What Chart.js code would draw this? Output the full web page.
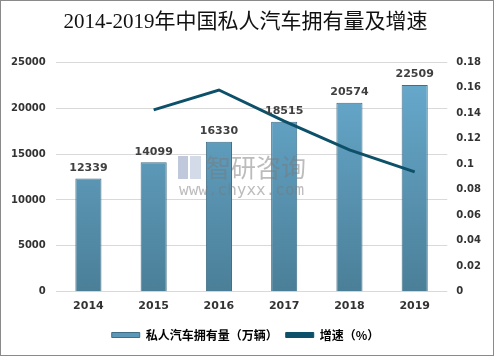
<!DOCTYPE html>
<html><head><meta charset="utf-8">
<script src="https://cdn.jsdelivr.net/npm/chart.js@4.4.0/dist/chart.umd.min.js"></script>
<style>
html,body{margin:0;padding:0;background:#fff;}
#wrap{position:relative;width:492px;height:354px;border:1px solid #8a8a8a;}
</style></head>
<body>
<div id="wrap"><canvas id="c" width="492" height="354"></canvas></div>
<script>
const categories = ['2014','2015','2016','2017','2018','2019'];
const ownership = [12339, 14099, 16330, 18515, 20574, 22509];
const growth = [null, 0.1426, 0.1582, 0.1338, 0.1112, 0.0940];
const leftTicks = [0, 5000, 10000, 15000, 20000, 25000];
const rightTicks = [0, 0.02, 0.04, 0.06, 0.08, 0.1, 0.12, 0.14, 0.16, 0.18];
const titleText = '2014-2019年中国私人汽车拥有量及增速';
const barLabel = '私人汽车拥有量（万辆）';
const lineLabel = '增速（%）';

const labelPlugin = {
  id: 'labels',
  afterDatasetsDraw(chart) {
    const ctx = chart.ctx;
    const meta = chart.getDatasetMeta(1);
    ctx.save();
    ctx.font = 'bold 11px "DejaVu Sans", sans-serif';
    ctx.fillStyle = '#404040';
    ctx.textAlign = 'center';
    ctx.textBaseline = 'bottom';
    meta.data.forEach((el, i) => {
      ctx.fillText(String(ownership[i]), el.x, el.y - 5);
    });
    ctx.restore();
  }
};

const watermarkPlugin = {
  id: 'watermark',
  afterDraw(chart) {
    const ctx = chart.ctx;
    ctx.save();
    ctx.globalAlpha = 0.5;
    ctx.fillStyle = '#7f93b8';
    ctx.fillRect(177, 155, 10, 23);
    ctx.fillStyle = '#a9b7d2';
    ctx.fillRect(189, 155, 11, 23);
    ctx.fillStyle = '#7a7a7a';
    ctx.font = '25px "Noto Sans CJK SC", sans-serif';
    ctx.textBaseline = 'middle';
    ctx.textAlign = 'left';
    ctx.fillText('智研咨询', 205, 166);
    ctx.font = '16px "DejaVu Sans Mono", monospace';
    ctx.fillText('www.chyxx.com', 178, 190);
    ctx.restore();
  }
};

const tickFont = { family: '"DejaVu Sans", sans-serif', size: 10, weight: 'bold' };

const ctx = document.getElementById('c').getContext('2d');
new Chart(ctx, {
  data: {
    labels: categories,
    datasets: [
      {
        type: 'line',
        label: lineLabel,
        data: growth,
        yAxisID: 'y1',
        borderColor: '#0d5069',
        backgroundColor: '#0d5069',
        borderWidth: 3,
        pointRadius: 0,
        tension: 0,
        order: 0
      },
      {
        type: 'bar',
        label: barLabel,
        data: ownership,
        yAxisID: 'y',
        backgroundColor(c) {
          const a = c.chart.chartArea;
          if (!a) return '#5e9dbd';
          const g = c.chart.ctx.createLinearGradient(0, a.top, 0, a.bottom);
          g.addColorStop(0, '#69acd0');
          g.addColorStop(1, '#4b7f98');
          return g;
        },
        borderColor: '#3f6e85',
        borderWidth: 1,
        categoryPercentage: 1,
        barPercentage: 0.4,
        order: 1
      }
    ]
  },
  plugins: [labelPlugin, watermarkPlugin],
  options: {
    responsive: false,
    animation: false,
    layout: { padding: { left: 0, right: 3, top: 0, bottom: 4 } },
    plugins: {
      title: {
        display: true,
        text: titleText,
        color: '#111',
        font: { family: '"Liberation Serif", "Noto Sans CJK SC", serif', size: 21, weight: 'normal' },
        padding: { top: 9, bottom: 27 }
      },
      legend: {
        position: 'bottom',
        labels: {
          color: '#222',
          font: { family: '"Noto Sans CJK SC", sans-serif', size: 12, weight: 'bold' },
          boxWidth: 28,
          boxHeight: 5,
          padding: 8,
          generateLabels(chart) {
            return [
              { text: barLabel, fillStyle: '#5b98b8', strokeStyle: '#3f6e85', lineWidth: 1, datasetIndex: 1 },
              { text: lineLabel, fillStyle: '#0d5069', strokeStyle: '#0d5069', lineWidth: 1, datasetIndex: 0 }
            ];
          }
        }
      },
      tooltip: { enabled: false }
    },
    scales: {
      x: {
        grid: { display: false, drawTicks: false },
        border: { display: false },
        ticks: { color: '#333', font: { family: '"DejaVu Sans", sans-serif', size: 11, weight: 'bold' }, padding: 8 }
      },
      y: {
        position: 'left',
        min: 0, max: 25000,
        afterBuildTicks(s) { s.ticks = leftTicks.map(v => ({ value: v })); },
        grid: { color: '#d9d9d9', drawTicks: false },
        border: { display: false },
        ticks: { color: '#333', font: tickFont, padding: 10, callback: (v) => String(v) }
      },
      y1: {
        position: 'right',
        min: 0, max: 0.18,
        afterBuildTicks(s) { s.ticks = rightTicks.map(v => ({ value: v })); },
        grid: { display: false, drawTicks: false },
        border: { display: false },
        ticks: { color: '#333', font: tickFont, padding: 9,
          callback: (v) => String(Math.round(v * 100) / 100) }
      }
    }
  }
});
</script>
</body></html>
